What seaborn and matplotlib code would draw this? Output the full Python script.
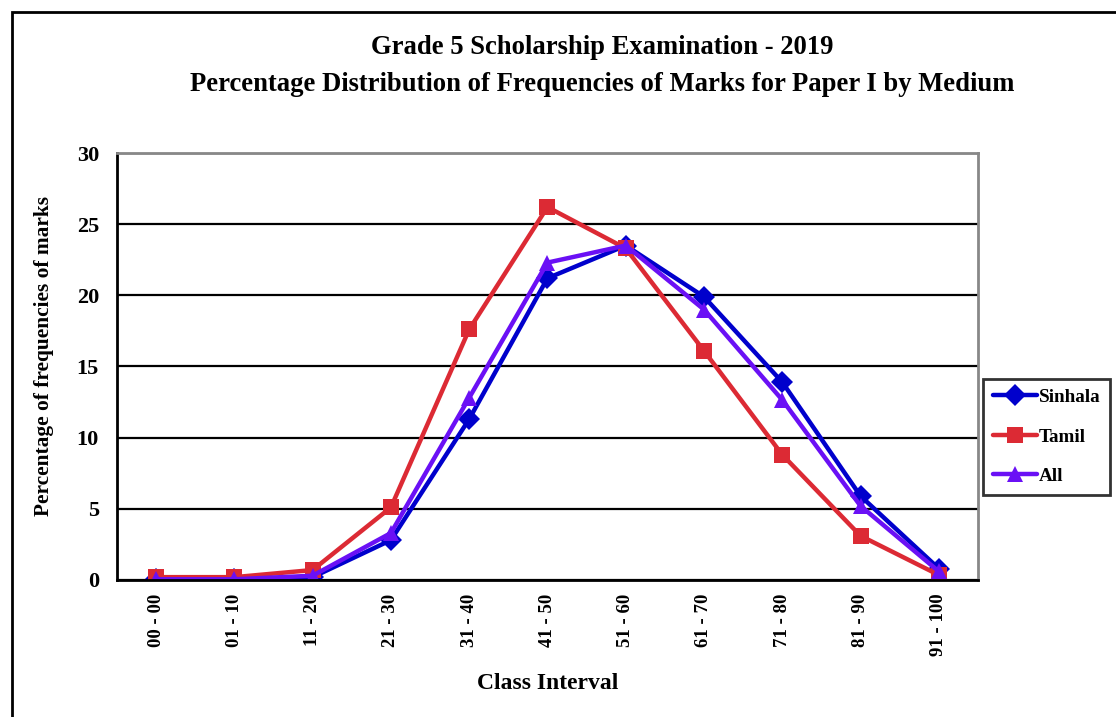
import pandas as pd
import matplotlib
matplotlib.use("Agg")
import matplotlib.pyplot as plt
from matplotlib.patches import Rectangle
import seaborn as sns

# data
intervals = ["00 - 00", "01 - 10", "11 - 20", "21 - 30", "31 - 40", "41 - 50",
             "51 - 60", "61 - 70", "71 - 80", "81 - 90", "91 - 100"]
sinhala = [0.05, 0.05, 0.2, 2.8, 11.3, 21.2, 23.5, 19.9, 13.9, 5.9, 0.8]
tamil = [0.2, 0.2, 0.7, 5.1, 17.6, 26.2, 23.3, 16.1, 8.8, 3.1, 0.35]
all_media = [0.05, 0.05, 0.3, 3.3, 12.8, 22.3, 23.5, 19.0, 12.65, 5.2, 0.6]

df = pd.DataFrame({
    "Class Interval": intervals * 3,
    "Percent": sinhala + tamil + all_media,
    "Medium": ["Sinhala"] * 11 + ["Tamil"] * 11 + ["All"] * 11,
})

sns.set_style("white")
plt.rcParams["font.family"] = ["Liberation Serif", "DejaVu Serif"]
plt.rcParams["font.weight"] = "bold"
plt.rcParams["text.color"] = "black"
plt.rcParams["axes.labelcolor"] = "black"
plt.rcParams["xtick.color"] = "black"
plt.rcParams["ytick.color"] = "black"

fig = plt.figure(figsize=(11.16, 7.17), dpi=100)
ax = fig.add_axes([0.1048, 0.1911, 0.7715, 0.5955])

colors = {"Sinhala": "#0000CC", "Tamil": "#DC2A34", "All": "#6A10F5"}
markers = {"Sinhala": "D", "Tamil": "s", "All": "^"}
sns.lineplot(data=df, x="Class Interval", y="Percent", hue="Medium", style="Medium",
             palette=colors, markers=markers, dashes=False, linewidth=3.2,
             markersize=11, markeredgewidth=0, sort=False, ax=ax)

ax.set_xlim(-0.5, 10.5)
ax.set_ylim(0, 30)
ax.set_yticks(range(0, 31, 5))
ax.yaxis.grid(True, color="black", linewidth=1.6)
ax.set_axisbelow(True)

ax.set_xticks(range(11))
ax.set_xticklabels(intervals, rotation=90, fontsize=13.5, fontweight="bold", va="top")
ax.set_xticks([i - 0.5 for i in range(12)], minor=True)
ax.tick_params(axis="x", which="major", length=0, pad=10)
ax.tick_params(axis="x", which="minor", length=6, width=1.5, direction="out", color="black")
ax.tick_params(axis="y", length=10, width=1.5, direction="inout", color="black",
               labelsize=16, pad=8)
for lbl in ax.get_yticklabels():
    lbl.set_fontweight("bold")

for side in ["left", "bottom"]:
    ax.spines[side].set_color("black")
    ax.spines[side].set_linewidth(2)
for side in ["top", "right"]:
    ax.spines[side].set_color("#888888")
    ax.spines[side].set_linewidth(2)

ax.set_xlabel("Class Interval", fontsize=17, fontweight="bold", labelpad=12)
ax.set_ylabel("Percentage of frequencies of marks", fontsize=15.4, fontweight="bold")
ax.yaxis.set_label_coords(-0.073, 0.524)

fig.text(0.540, 0.934, "Grade 5 Scholarship Examination - 2019",
         ha="center", va="center", fontsize=19.2, fontweight="bold")
fig.text(0.540, 0.882, "Percentage Distribution of Frequencies of Marks for Paper I by Medium",
         ha="center", va="center", fontsize=19.2, fontweight="bold")

leg = ax.legend(loc="center left", bbox_to_anchor=(1.006, 0.335), frameon=True,
                fancybox=False, edgecolor="black", fontsize=13.8, handlelength=2.3,
                handletextpad=0.1, labelspacing=1.15, borderpad=0.5, borderaxespad=0)
leg.get_frame().set_linewidth(2)
for t in leg.get_texts():
    t.set_fontweight("bold")

# outer frame of the chart object
fig.patches.append(Rectangle((0.0108, -0.2), 2, 1.2 - 12 / 717, transform=fig.transFigure,
                             fill=False, edgecolor="black", linewidth=2))

fig.savefig("out.png", dpi=100)
